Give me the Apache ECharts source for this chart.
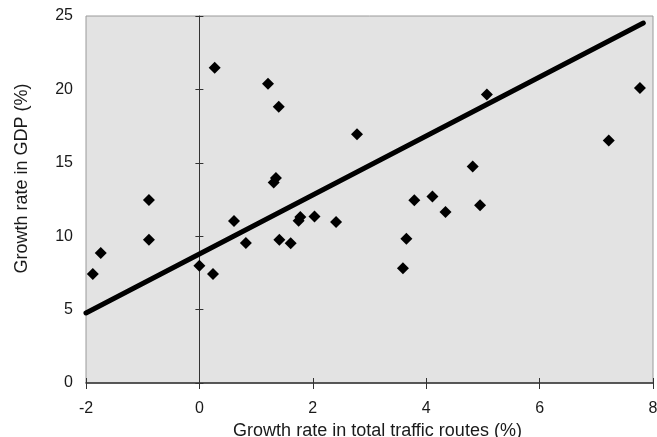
<!DOCTYPE html>
<html>
<head>
<meta charset="utf-8">
<script src="https://cdn.jsdelivr.net/npm/echarts@6/dist/echarts.min.js"></script>
<style>
  html, body { margin: 0; padding: 0; background: #fff; }
  #chart { width: 657px; height: 437px; }
</style>
</head>
<body>
<div id="chart"></div>
<script>
// growth in traffic routes (x) vs GDP growth (y)
var routeGrowth = [-1.88, -1.74, -0.89, -0.89, 0.0, 0.24, 0.27, 0.61, 0.82, 1.21,
                   1.31, 1.35, 1.40, 1.41, 1.61, 1.75, 1.78, 2.03, 2.41, 2.78,
                   3.59, 3.65, 3.79, 4.11, 4.34, 4.82, 4.95, 5.07, 7.22, 7.77]
var gdpGrowth   = [7.43, 8.86, 12.47, 9.75, 7.98, 7.43, 21.47, 11.04, 9.54, 20.38,
                   13.65, 13.97, 18.81, 9.75, 9.52, 11.05, 11.3, 11.34, 10.97, 16.95,
                   7.82, 9.82, 12.45, 12.7, 11.64, 14.75, 12.11, 19.65, 16.52, 20.09]
// regression line end points
var fitX = [-2, 7.83]
var fitY = [4.77, 24.52]

var xTicks = { min: -2, max: 8, interval: 2 }
var yTicks = { min: 0, max: 25, interval: 5 }

var points = routeGrowth.map(function (x, i) { return [x, gdpGrowth[i]] })
var fitLine = fitX.map(function (x, i) { return [x, fitY[i]] })

var font = 'Liberation Sans, Arial, sans-serif'
var chart = echarts.init(document.getElementById('chart'))

chart.setOption({
  animation: false,
  textStyle: { fontFamily: font },
  grid: {
    left: 86, right: 4, top: 16, bottom: 54,
    outerBoundsMode: 'none',
    show: true,
    backgroundColor: '#e3e3e3',
    borderColor: '#9a9a9a',
    borderWidth: 1
  },
  xAxis: [
    {
      type: 'value',
      min: xTicks.min, max: xTicks.max, interval: xTicks.interval,
      name: 'Growth rate in total traffic routes (%)',
      nameLocation: 'middle',
      nameGap: 37,
      nameTextStyle: { fontSize: 18, color: '#1a1a1a', padding: [0, 0, 0, 16] },
      axisLine: { lineStyle: { color: '#333', width: 1.5 } },
      axisTick: { show: true, length: 6, lineStyle: { color: '#333' } },
      axisLabel: { fontSize: 16, color: '#1a1a1a', margin: 18 },
      splitLine: { show: false }
    },
    {
      type: 'value',
      position: 'bottom',
      min: xTicks.min, max: xTicks.max, interval: xTicks.interval,
      axisLine: { show: false },
      axisTick: { show: true, inside: true, length: 5, lineStyle: { color: '#333' } },
      axisLabel: { show: false },
      splitLine: { show: false }
    }
  ],
  yAxis: [
    {
      type: 'value',
      min: yTicks.min, max: yTicks.max, interval: yTicks.interval,
      name: 'Growth rate in GDP (%)',
      nameLocation: 'middle',
      nameGap: 55,
      nameTextStyle: { fontSize: 18, color: '#1a1a1a', padding: [0, 0, 0, 42] },
      axisLine: { show: false, onZero: false },
      axisTick: { show: false },
      axisLabel: { fontSize: 16, color: '#1a1a1a', margin: 13 },
      splitLine: { show: false }
    },
    {
      // vertical axis line through x = 0
      type: 'value',
      position: 'left',
      min: yTicks.min, max: yTicks.max, interval: yTicks.interval,
      axisLine: { show: true, onZero: true, lineStyle: { color: '#333', width: 1 } },
      axisTick: { show: true, length: 4, lineStyle: { color: '#333' } },
      axisLabel: { show: false },
      splitLine: { show: false }
    },
    {
      type: 'value',
      position: 'left',
      min: yTicks.min, max: yTicks.max, interval: yTicks.interval,
      axisLine: { show: false, onZero: true },
      axisTick: { show: true, inside: true, length: 4, lineStyle: { color: '#333' } },
      axisLabel: { show: false },
      splitLine: { show: false }
    }
  ],
  series: [
    {
      type: 'line',
      data: fitLine,
      symbol: 'none',
      lineStyle: { color: '#000', width: 5, cap: 'round' },
      z: 3
    },
    {
      type: 'scatter',
      data: points,
      symbol: 'diamond',
      symbolSize: 12,
      itemStyle: { color: '#000', opacity: 1 },
      z: 4
    }
  ]
})
</script>
</body>
</html>
